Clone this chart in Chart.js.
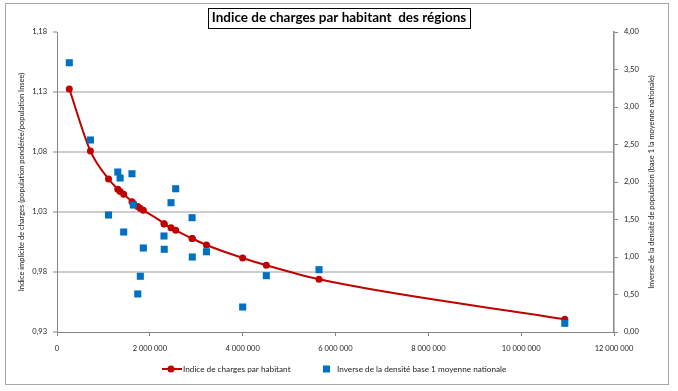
<!DOCTYPE html>
<html><head><meta charset="utf-8">
<script src="https://cdn.jsdelivr.net/npm/chart.js@4/dist/chart.umd.min.js"></script>
<style>html,body{margin:0;padding:0;background:#fff}#wrap{width:678px;height:391px;position:relative}</style>
</head><body><div id="wrap"><canvas id="c" width="678" height="391"></canvas></div>
<script>
// Population des régions (x)
const population = [265000, 720000, 1110000, 1310000, 1360000, 1437000, 1615000, 1645000, 1740000, 1795000, 1860000, 2305000, 2310000, 2456000, 2557000, 2910000, 2915000, 3220000, 4000000, 4510000, 5645000, 10940000];
// Indice de charges par habitant (axe gauche)
const indiceCharges = [1.1325, 1.0808, 1.0575, 1.049, 1.047, 1.0447, 1.0386, 1.037, 1.0345, 1.033, 1.0314, 1.0203, 1.0201, 1.0169, 1.0147, 1.008, 1.0079, 1.0025, 0.9917, 0.9856, 0.9739, 0.9406];
// Inverse de la densité base 1 moyenne nationale (axe droit)
const inverseDensite = [3.59, 2.56, 1.56, 2.133, 2.053, 1.333, 2.11, 1.693, 0.507, 0.743, 1.12, 1.28, 1.103, 1.724, 1.91, 1.524, 1.0, 1.07, 0.333, 0.751, 0.831, 0.116];
// Ticks
const xTicks = [0, 2000000, 4000000, 6000000, 8000000, 10000000, 12000000];
const yLeftTicks = [0.93, 0.98, 1.03, 1.08, 1.13, 1.18];
const yRightTicks = [0, 0.5, 1, 1.5, 2, 2.5, 3, 3.5, 4];

const titleText = 'Indice de charges par habitant  des régions';
const leftTitle = 'Indice implicite de charges (population pondérée/population Insee)';
const rightTitle = 'Inverse de la densité de population (base 1 la moyenne nationale)';
const serie1 = 'Indice de charges par habitant';
const serie2 = 'Inverse de la densité base 1 moyenne nationale';

const FONT = 'Lato, "Open Sans", sans-serif';
const RED = '#c00000', BLUE = '#0070c0', AXIS = '#868686', GRID = '#cdcdcd';

function fmtInt(v){ return String(Math.round(v)).replace(/\B(?=(\d{3})+(?!\d))/g, ' '); }
function fmtDec(v){ return v.toFixed(2).replace('.', ','); }

const decor = {
  id: 'decor',
  beforeDraw(chart){
    const c = chart.ctx; c.save(); c.fillStyle = '#fff'; c.fillRect(0,0,chart.width,chart.height); c.restore();
  },
  afterDraw(chart){
    const c = chart.ctx, a = chart.chartArea;
    c.save();
    // outer frame
    c.strokeStyle = '#a6a6a6'; c.lineWidth = 1;
    c.strokeRect(5.5, 3.5, 663, 381);
    // title with box
    c.font = 'bold 13.5px ' + FONT; c.fillStyle = '#000'; c.textAlign = 'center'; c.textBaseline = 'middle';
    const tw = c.measureText(titleText).width;
    const cx = 339, cy = 18;
    c.fillText(titleText, cx, cy);
    c.strokeStyle = '#000'; c.lineWidth = 1;
    c.strokeRect(Math.round(cx - tw/2 - 4) + 0.5, 8.5, Math.round(tw + 8), 20);
    // axis titles
    c.font = '7.5px ' + FONT; c.fillStyle = '#222';
    const my = (a.top + a.bottom) / 2;
    c.save(); c.translate(22, my); c.rotate(-Math.PI/2); c.fillText(leftTitle, 0, 0); c.restore();
    c.save(); c.translate(652, my); c.rotate(-Math.PI/2); c.fillText(rightTitle, 0, 0); c.restore();
    // legend
    const ly = 369;
    c.strokeStyle = RED; c.lineWidth = 2;
    c.beginPath(); c.moveTo(162, ly); c.lineTo(182, ly); c.stroke();
    c.fillStyle = RED; c.beginPath(); c.arc(171, ly, 3.5, 0, Math.PI*2); c.fill();
    c.font = '8.2px ' + FONT; c.fillStyle = '#222'; c.textAlign = 'left';
    c.fillText(serie1, 183, ly);
    c.fillStyle = BLUE; c.fillRect(323, ly - 3.5, 7, 7);
    c.fillStyle = '#222'; c.fillText(serie2, 337, ly);
    c.restore();
  }
};

new Chart(document.getElementById('c').getContext('2d'), {
  type: 'scatter',
  data: {
    datasets: [
      {
        label: serie1,
        data: population.map((x, i) => ({x: x, y: indiceCharges[i]})),
        yAxisID: 'y', showLine: true,
        borderColor: RED, backgroundColor: RED, borderWidth: 2,
        pointRadius: 3.5, pointHoverRadius: 3.5, pointBorderWidth: 0,
        cubicInterpolationMode: 'monotone', order: 2
      },
      {
        label: serie2,
        data: population.map((x, i) => ({x: x, y: inverseDensite[i]})),
        yAxisID: 'y2', showLine: false, pointStyle: 'rect',
        pointRadius: 5, pointHoverRadius: 5,
        backgroundColor: BLUE, borderColor: BLUE, borderWidth: 0, order: 1
      }
    ]
  },
  options: {
    responsive: false, animation: false, events: [],
    layout: {padding: {top: 32, left: 0, right: 0, bottom: 0}},
    plugins: {legend: {display: false}, tooltip: {enabled: false}, title: {display: false}},
    scales: {
      x: {
        type: 'linear', min: 0, max: 12000000,
        afterBuildTicks: s => { s.ticks = xTicks.map(v => ({value: v})); },
        afterFit: s => { s.height = 59; },
        grid: {drawOnChartArea: false, drawTicks: true, tickLength: 4, tickColor: AXIS, tickWidth: 1},
        border: {color: AXIS, width: 1},
        ticks: {font: {family: FONT, size: 7.5}, color: '#222', padding: 8, maxRotation: 0, autoSkip: false, callback: v => fmtInt(v)}
      },
      y: {
        position: 'left', min: 0.93, max: 1.18,
        afterBuildTicks: s => { s.ticks = yLeftTicks.map(v => ({value: v})); },
        afterFit: s => { s.width = 57; },
        grid: {
          color: ctx => (ctx.tick && (Math.abs(ctx.tick.value - 0.93) < 1e-6 || Math.abs(ctx.tick.value - 1.18) < 1e-6)) ? 'rgba(0,0,0,0)' : GRID,
          lineWidth: 2, tickLength: 4, tickColor: AXIS, tickWidth: 1
        },
        border: {color: AXIS, width: 1},
        ticks: {font: {family: FONT, size: 7.5}, color: '#222', padding: 6, autoSkip: false, callback: v => fmtDec(v)}
      },
      y2: {
        position: 'right', min: 0, max: 4,
        afterBuildTicks: s => { s.ticks = yRightTicks.map(v => ({value: v})); },
        afterFit: s => { s.width = 64; },
        grid: {drawOnChartArea: false, tickLength: 4, tickColor: AXIS, tickWidth: 1},
        border: {color: AXIS, width: 1.5},
        ticks: {font: {family: FONT, size: 7.5}, color: '#222', padding: 6, autoSkip: false, callback: v => fmtDec(v)}
      }
    }
  },
  plugins: [decor]
});
</script>
</body></html>
